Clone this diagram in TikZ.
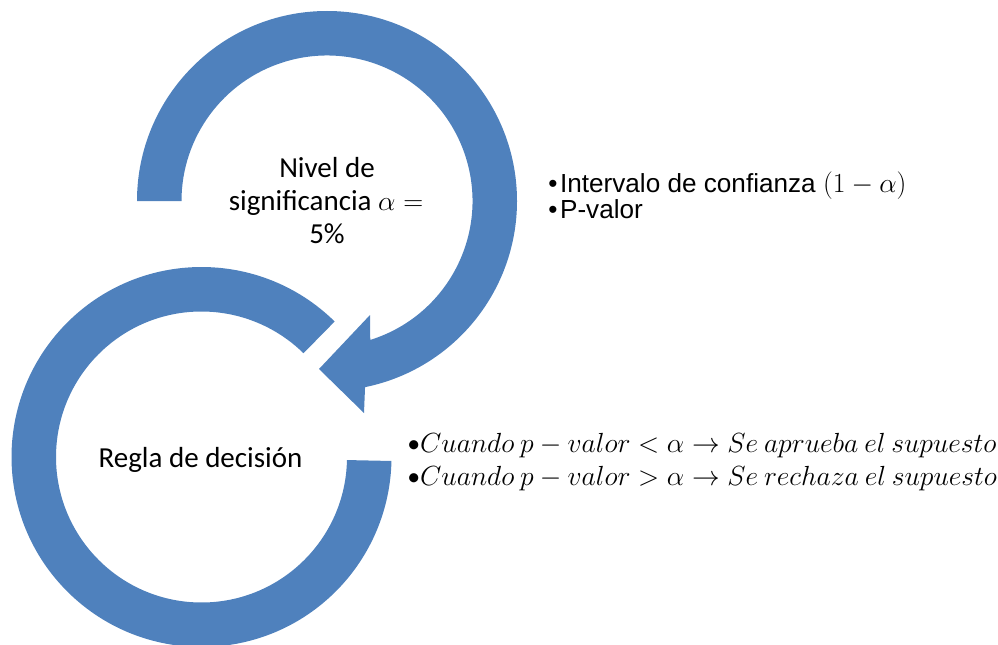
\documentclass[tikz,border=0pt]{standalone}
\usepackage[no-math]{fontspec}
\setmainfont{Carlito}
\newfontfamily\arialf{Liberation Sans}
\definecolor{ringblue}{RGB}{79,129,189}
\tikzset{
  ring/.style={fill=ringblue, draw=none},
  calib/.style={font=\fontsize{21.75}{24.75}\selectfont, inner sep=0pt},
  arial/.style={font=\arialf\fontsize{19.6}{19.6}\selectfont, inner sep=0pt},
  mathtxt/.style={font=\fontsize{19.4}{24}\selectfont, inner sep=0pt}
}
\begin{document}
\begin{tikzpicture}[x=0.75pt,y=0.75pt]
\useasboundingbox (0,0) rectangle (998,644);
\coordinate (c1) at (327,443);
\coordinate (c2) at (201.5,187);
% upper circular arrow
\fill[ring] ([shift={(c1)}]180:190) arc[start angle=180,end angle=-78.45,radius=142.5pt]
  -- (364,231) -- (319,275) -- (370,329)
  -- ([shift={(c1)}]-72.7:145.5) arc[start angle=-72.7,end angle=180,radius=109.125pt] -- cycle;
% lower ring
\fill[ring] ([shift={(c2)}]45.5:190) arc[start angle=45.5,end angle=358.8,radius=142.5pt]
  -- ([shift={(c2)}]358.8:145.5) arc[start angle=358.8,end angle=45.5,radius=109.125pt] -- cycle;
% texts
\node[calib, anchor=base] (niv1) at (327,467) {Nivel de};
\node[calib, anchor=base] (niv2) at (326,434) {significancia $\alpha =$};
\node[calib, anchor=base] (niv3) at (327,401) {5\%};
\node[calib, anchor=base] (regla) at (200.5,177) {Regla de decisión};
\node[arial, anchor=base west] (int) at (548,452) {•\hspace{2pt}Intervalo de confianza $(1-\alpha)$};
\node[arial, anchor=base west] (pval) at (548,426) {•\hspace{2pt}P-valor};
\node[mathtxt, anchor=base west] (r1) at (407,192) {•$Cuando\ p-valor<\alpha\rightarrow Se\ aprueba\ el\ supuesto$};
\node[mathtxt, anchor=base west] (r2) at (407,159) {•$Cuando\ p-valor>\alpha\rightarrow Se\ rechaza\ el\ supuesto$};
\end{tikzpicture}
\end{document}
